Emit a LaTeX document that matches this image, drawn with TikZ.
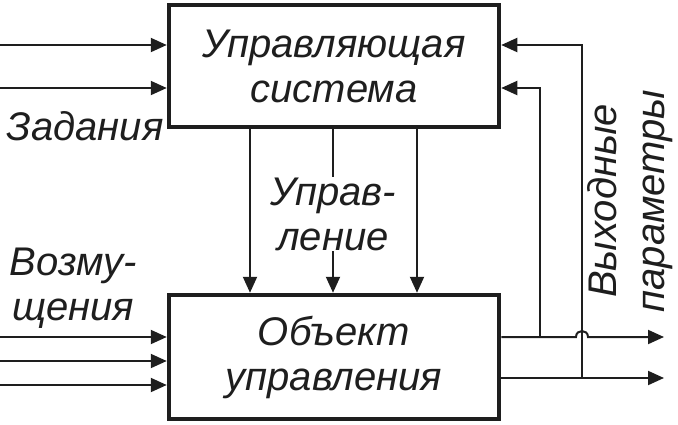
\documentclass[tikz,border=0pt]{standalone}
\usepackage{fontspec}
\setmainfont{Liberation Sans}
\usetikzlibrary{arrows.meta, positioning}
\definecolor{inkgray}{HTML}{1e1e1e}

\begin{document}
\begin{tikzpicture}[x=1pt, y=-1pt,
	blockbox/.style={draw=inkgray, line width=4.5pt, fill=white, minimum width=330pt,
		align=center, inner sep=0pt},
	sig/.style={draw=inkgray, line width=2pt, -{Triangle[length=16pt, width=14pt]}},
	lbl/.style={font=\fontsize{40}{45}\selectfont\itshape, text=inkgray, align=center, inner sep=1pt}]
	\useasboundingbox (0,0) rectangle (678,424);

	% blocks
	\node[blockbox, minimum height=122pt, lbl, line width=4.5pt, draw=inkgray] (ctrl) at (334,66)
		{Управляющая\\система};
	\node[blockbox, minimum height=124pt, lbl, line width=4.5pt, draw=inkgray] (obj) at (334,357)
		{Объект\\управления};

	% tasks
	\coordinate (in1) at (0,45);
	\coordinate (in2) at (0,88);
	\draw[sig] (in1) -- (in1 -| ctrl.west);
	\draw[sig] (in2) -- (in2 -| ctrl.west);

	% disturbances
	\foreach \y [count=\i] in {337,361,385} {
		\coordinate (dist\i) at (0,\y);
		\draw[sig] (dist\i) -- (dist\i -| obj.west);
	}

	% control
	\foreach \x [count=\i] in {250,333,417} {
		\coordinate (u\i) at (\x,0);
		\draw[sig] (u\i |- ctrl.south) -- (u\i |- obj.north);
	}

	% outputs
	\coordinate (out1) at (664,337);
	\coordinate (out2) at (664,378);
	\coordinate (tap1) at (540,337);
	\coordinate (tap2) at (582,378);
	\draw[sig] (out1 -| obj.east) -- (576,337) .. controls (576,329) and (588,329) .. (588,337) -- (out1);
	\draw[sig] (out2 -| obj.east) -- (out2);

	% feedback
	\draw[sig] (tap1) |- (in2 -| ctrl.east);
	\draw[sig] (tap2) |- (in1 -| ctrl.east);

	% labels
	\node[lbl] (tasks) at (85,126) {Задания};
	\node[lbl, fill=white] (ctl) at (333,214) {Управ-\\ление};
	\node[lbl] (dis) at (73,288) {Возму-\\щения};
	\node[lbl, rotate=90] (outp) at (630,201) {Выходные\\[3pt]параметры};
\end{tikzpicture}
\end{document}
